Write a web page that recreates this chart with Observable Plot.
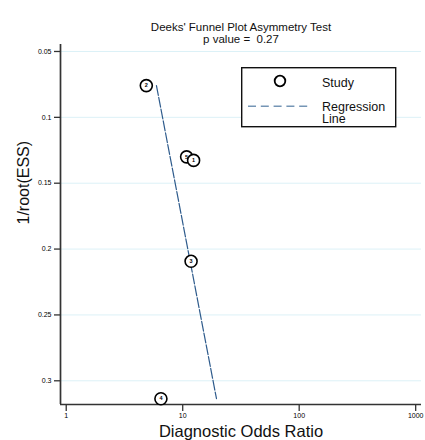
<!DOCTYPE html>
<html>
<head>
<meta charset="utf-8">
<script src="https://cdn.jsdelivr.net/npm/d3@7"></script>
<script src="https://cdn.jsdelivr.net/npm/@observablehq/plot@0.6"></script>
<style>
  html, body { margin: 0; padding: 0; background: #fff; }
  svg { display: block; }
</style>
</head>
<body>
<div id="chart"></div>
<script>
// ---- data ----
const studyIds = ["1", "2", "3", "4", "5"];
const studyDOR = [12.4, 4.87, 11.8, 6.5, 10.8];
const studyInvRootESS = [0.1327, 0.0759, 0.2093, 0.3136, 0.1300];
const drawOrder = ["5", "1", "2", "3", "4"];

const regDOR = [5.95, 19.5];
const regInvRootESS = [0.0759, 0.3136];

const xTicks = [1, 10, 100, 1000];
const xTickLabels = ["1", "10", "100", "1000"];
const yTicks = [0.05, 0.1, 0.15, 0.2, 0.25, 0.3];
const yTickLabels = ["0.05", "0.1", "0.15", "0.2", "0.25", "0.3"];

const titleText = "Deeks' Funnel Plot Asymmetry Test";
const pValueText = "p value =\u00a0 0.27";
const xLabel = "Diagnostic Odds Ratio";
const yLabel = "1/root(ESS)";
const legendStudy = "Study";
const legendReg1 = "Regression";
const legendReg2 = "Line";

// ---- build tables ----
const studies = studyIds.map((id, i) => ({id, x: studyDOR[i], y: studyInvRootESS[i]}));
const studiesOrdered = drawOrder.map(id => studies.find(s => s.id === id));
const regLine = regDOR.map((x, i) => ({x, y: regInvRootESS[i]}));
const xDomain = [0.893, 1122];
const yDomain = [0.0447, 0.318];
const xLab = new Map(xTicks.map((t, i) => [t, xTickLabels[i]]));
const yLab = new Map(yTicks.map((t, i) => [t, yTickLabels[i]]));

const axisColor = "#333";
const regColor = "#2e5b8c";
const font = "'Liberation Sans', Arial, sans-serif";

const studyMarks = studiesOrdered.flatMap(s => [
  Plot.dot([s], {x: "x", y: "y", r: 6, stroke: "#000", strokeWidth: 1.6, fill: "#fff"}),
  Plot.text([s], {x: "x", y: "y", text: "id", fontSize: 5.5, fontWeight: "bold", fill: "#000"})
]);

const chart = Plot.plot({
  width: 425,
  height: 440,
  marginTop: 44,
  marginBottom: 36,
  marginLeft: 60,
  marginRight: 4,
  style: {fontFamily: font, background: "#fff", color: "#111"},
  x: {type: "log", domain: xDomain, axis: null},
  y: {domain: yDomain, reverse: true, axis: null},
  marks: [
    Plot.gridY(yTicks, {stroke: "#dcf1f7", strokeOpacity: 1, strokeWidth: 1}),
    Plot.axisY(yTicks, {anchor: "left", tickSize: 6, tickPadding: 3, fontSize: 7, tickFormat: d => yLab.get(d), stroke: axisColor, strokeWidth: 1.3, fill: "#000", label: null}),
    Plot.axisX(xTicks, {anchor: "bottom", tickSize: 7, tickPadding: 2, fontSize: 7, tickFormat: d => xLab.get(d), stroke: axisColor, strokeWidth: 1.3, fill: "#000", label: null}),
    Plot.ruleX([xDomain[0]], {stroke: axisColor, strokeWidth: 1.7}),
    Plot.ruleY([yDomain[1]], {stroke: axisColor, strokeWidth: 1.7}),
    Plot.line(regLine, {x: "x", y: "y", stroke: regColor, strokeWidth: 1.2, strokeDasharray: "10,2"}),
    ...studyMarks,
    Plot.text([titleText], {frameAnchor: "top", dy: -22, fontSize: 11.5, fill: "#111"}),
    Plot.text([pValueText], {frameAnchor: "top", dy: -10, fontSize: 11.5, fill: "#111"}),
    Plot.text([xLabel], {frameAnchor: "bottom", dy: 32, fontSize: 16.5, fill: "#111"}),
    Plot.text([yLabel], {frameAnchor: "left", dx: -37, rotate: -90, fontSize: 16, fill: "#111"})
  ]
});

// ---- legend box (inside the plot area, top right) ----
const svg = d3.select(chart);
const lg = svg.append("g").attr("font-family", font).attr("text-anchor", "start");
lg.append("rect").attr("x", 241.7).attr("y", 67.7).attr("width", 154).attr("height", 59)
  .attr("fill", "#fff").attr("stroke", "#111").attr("stroke-width", 1.4);
lg.append("circle").attr("cx", 280).attr("cy", 81).attr("r", 5.3)
  .attr("fill", "#fff").attr("stroke", "#000").attr("stroke-width", 1.8);
lg.append("text").attr("x", 322).attr("y", 87).attr("font-size", 12.5).attr("fill", "#111").text(legendStudy);
lg.append("line").attr("x1", 248).attr("x2", 312).attr("y1", 106.3).attr("y2", 106.3)
  .attr("stroke", "#7595b5").attr("stroke-width", 1.4).attr("stroke-dasharray", "8,4.8");
lg.append("text").attr("x", 322).attr("y", 110.7).attr("font-size", 12.5).attr("fill", "#111").text(legendReg1);
lg.append("text").attr("x", 322).attr("y", 123.3).attr("font-size", 12.5).attr("fill", "#111").text(legendReg2);

document.getElementById("chart").appendChild(chart);
</script>
</body>
</html>
